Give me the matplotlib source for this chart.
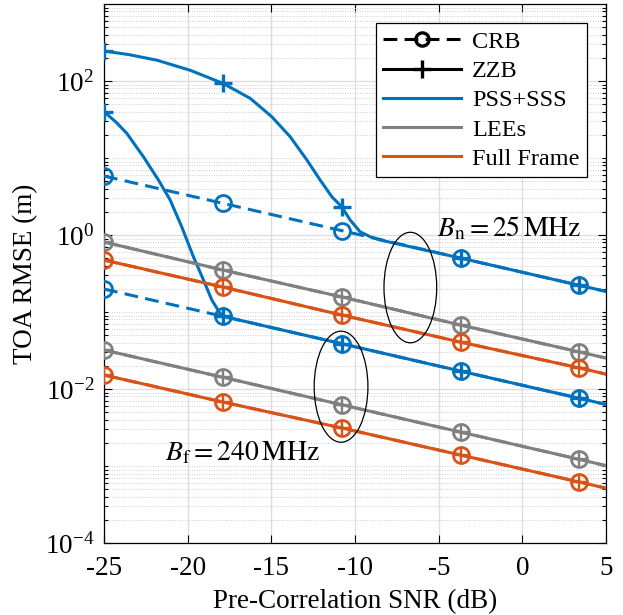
import numpy as np
import matplotlib
matplotlib.use('Agg')
import matplotlib.pyplot as plt
from matplotlib.lines import Line2D
from matplotlib.patches import Ellipse
from matplotlib.ticker import FixedLocator, LogFormatterSciNotation, NullFormatter

plt.rcParams['font.family'] = ['Liberation Serif', 'DejaVu Serif']
plt.rcParams['mathtext.fontset'] = 'stix'
plt.rcParams['axes.unicode_minus'] = False
plt.rcParams['font.size'] = 19.5

blue = '#0072BD'
gray = '#808080'
orange = '#D95319'

# SNR points where markers sit, plus the right edge
snr = [-25, -17.9, -10.8, -3.7, 3.4, 5]

# CRB (also ZZB once the threshold region is passed)
crb_pss_n = [5.83, 2.58, 1.14, 0.502, 0.222, 0.185]
crb_pss_f = [0.199, 0.0879, 0.0388, 0.0171, 0.00757, 0.00630]
crb_lee_n = [0.811, 0.351, 0.157, 0.0678, 0.0303, 0.0252]
crb_lee_f = [0.0321, 0.0142, 0.00625, 0.00276, 0.00122, 0.00101]
crb_ff_n = [0.473, 0.211, 0.0914, 0.0407, 0.0188, 0.0156]
crb_ff_f = [0.0152, 0.00678, 0.00312, 0.00139, 0.00062, 0.000515]

# ZZB for PSS+SSS, with the threshold region
zzb_pss_n_snr = [-25, -23.5, -21.83, -19.86, -17.9, -16.27, -14.98, -13.88,
                 -12.88, -12.09, -11.39, -10.8, -10.30, -9.70, -9.1, -8.5,
                 -3.7, 3.4, 5]
zzb_pss_n = [245, 220, 186, 138, 93.3, 59.6, 34.4, 18.9,
             9.42, 5.18, 3.14, 2.33, 1.57, 1.10, 0.95, 0.861,
             0.502, 0.222, 0.185]
zzb_pss_n_marks = [0, 4, 11, 16, 17]

zzb_pss_f_snr = [-25, -24.3, -23.64, -22.65, -21.75, -21.05, -20.36, -19.66,
                 -19.06, -18.56, -18.07, -17.9, -10.8, -3.7, 3.4, 5]
zzb_pss_f = [39.9, 29.5, 20.9, 10.4, 5.18, 2.85, 1.28, 0.522,
             0.261, 0.143, 0.0962, 0.0879, 0.0388, 0.0171, 0.00757, 0.00630]
zzb_pss_f_marks = [0, 11, 12, 13, 14]

fig = plt.figure(figsize=(6.23, 6.15), dpi=100)
ax = fig.add_axes([0.167, 0.117, 0.806, 0.8765])
ax.set_yscale('log')

lw = 2.2
ms = 11.5
mew = 2.0
dash = (4.5, 2.4)
marks = [0, 1, 2, 3, 4]

for y, c in [(crb_pss_n, blue), (crb_pss_f, blue), (crb_lee_n, gray),
             (crb_lee_f, gray), (crb_ff_n, orange), (crb_ff_f, orange)]:
    ax.plot(snr, y, color=c, lw=lw, dashes=dash, marker='o', ms=ms,
            mfc='none', mew=mew, markevery=marks, zorder=3)

ax.plot(zzb_pss_n_snr, zzb_pss_n, color=blue, lw=lw, marker='+', ms=13,
        mew=2.4, markevery=zzb_pss_n_marks, zorder=4)
ax.plot(zzb_pss_f_snr, zzb_pss_f, color=blue, lw=lw, marker='+', ms=13,
        mew=2.4, markevery=zzb_pss_f_marks, zorder=4)
for y, c in [(crb_lee_n, gray), (crb_lee_f, gray),
             (crb_ff_n, orange), (crb_ff_f, orange)]:
    ax.plot(snr, y, color=c, lw=lw, marker='+', ms=ms - 1.5, mew=1.7,
            markevery=marks, zorder=4)

ax.set_xlim(-25, 5)
ax.set_ylim(1e-4, 1e3)
ax.set_xticks([-25, -20, -15, -10, -5, 0, 5])
ax.yaxis.set_major_locator(FixedLocator([1e-4, 1e-2, 1e0, 1e2]))
ax.yaxis.set_major_formatter(LogFormatterSciNotation())
minor = [m * 10.0 ** e for e in range(-4, 3) for m in range(1, 10)
         if not (m == 1 and e % 2 == 0)]
ax.yaxis.set_minor_locator(FixedLocator(minor))
ax.yaxis.set_minor_formatter(NullFormatter())

ax.tick_params(which='both', direction='in', top=True, right=True,
               width=0.8, labelsize=19.5)
ax.tick_params(which='major', length=6)
ax.tick_params(axis='x', which='major', pad=9)
ax.tick_params(axis='y', which='major', pad=7)
ax.tick_params(which='minor', length=3)
ax.grid(True, which='major', color='#dcdcdc', lw=0.9, zorder=0)
ax.grid(True, which='minor', axis='y', color='#d0d0d0', lw=0.7,
        ls=(0, (1, 1.5)), zorder=0)
ax.set_axisbelow(True)
for s in ax.spines.values():
    s.set_linewidth(0.9)

ax.set_xlabel('Pre-Correlation SNR (dB)', fontsize=19.5, labelpad=6)
ax.set_ylabel('TOA RMSE (m)', fontsize=19.5, labelpad=5)

ax.add_patch(Ellipse((0.610, 0.474), 0.105, 0.205, transform=ax.transAxes,
                     fill=False, ec='k', lw=0.9, zorder=5))
ax.add_patch(Ellipse((0.472, 0.290), 0.107, 0.206, transform=ax.transAxes,
                     fill=False, ec='k', lw=0.9, zorder=5))

ax.text(-5.1, 0.97, r'$B_\mathrm{n} = 25\,\mathrm{MHz}$', fontsize=20,
        va='baseline', ha='left', zorder=6)
ax.text(-21.35, 0.0012, r'$B_\mathrm{f} = 240\,\mathrm{MHz}$', fontsize=20,
        va='baseline', ha='left', zorder=6)

handles = [
    Line2D([], [], color='k', lw=lw, dashes=dash, marker='o', ms=ms - 2,
           mfc='none', mew=2.4),
    Line2D([], [], color='k', lw=lw, marker='+', ms=13, mew=2.4),
    Line2D([], [], color=blue, lw=lw),
    Line2D([], [], color=gray, lw=lw),
    Line2D([], [], color=orange, lw=lw),
]
leg = ax.legend(handles, ['CRB', 'ZZB', 'PSS+SSS', 'LEEs', 'Full Frame'],
                loc='upper right', fontsize=17.5, handlelength=3.2,
                labelspacing=0.3, borderaxespad=0.8, fancybox=False,
                framealpha=1, edgecolor='k', borderpad=0.3,
                handletextpad=0.45)
leg.get_frame().set_linewidth(0.9)
leg.set_zorder(10)

fig.savefig('out.png', dpi=100)
